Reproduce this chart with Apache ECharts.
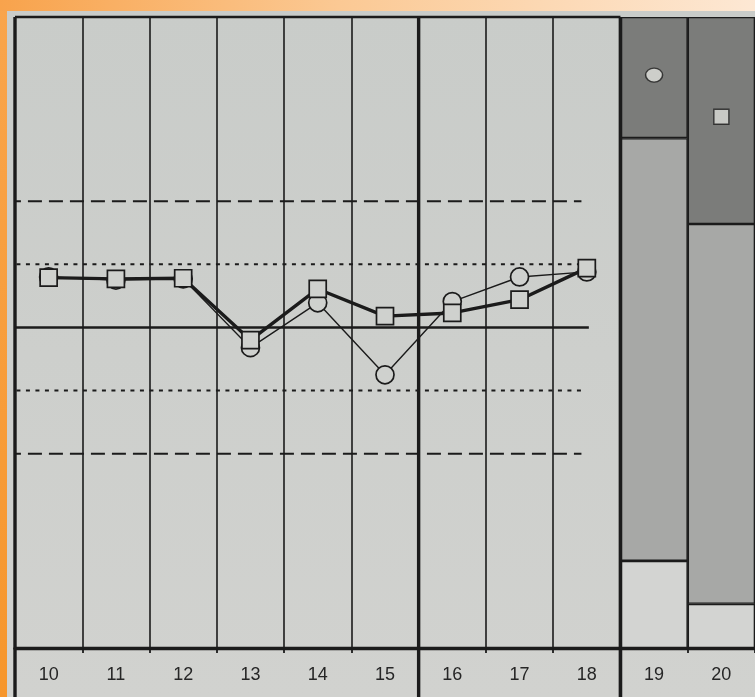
<!DOCTYPE html>
<html><head><meta charset="utf-8">
<script src="https://cdn.jsdelivr.net/npm/echarts/dist/echarts.min.js"></script>
<style>
html,body{margin:0;padding:0;width:755px;height:697px;overflow:hidden;background:linear-gradient(to bottom,#f9a54c,#f6962c);}
#topband{position:absolute;left:0;top:0;width:755px;height:11px;background:linear-gradient(to right,#f8a34c,#fbc994 45%,#fde8d4);}
#paper{position:absolute;left:7px;top:11px;right:0;bottom:0;background:linear-gradient(to bottom,#c9ccc9,#d1d2cf);}
#chart{position:absolute;left:0;top:0;width:755px;height:697px;}
</style></head><body>
<div id="topband"></div><div id="paper"></div><div id="chart"></div>
<script>
// ---- data ----
const categories = ['10','11','12','13','14','15','16','17','18','19','20'];
const squareValues = [0.79, 0.77, 0.78, -0.20, 0.61, 0.18, 0.23, 0.44, 0.94];
const circleValues = [0.80, 0.75, 0.77, -0.32, 0.39, -0.75, 0.41, 0.80, 0.88];
const dashedLimits = [2, -2];
const dottedLimits = [1, -1];
const centerValue = 0;
const barCategories = ['19', '20'];
const lowBand = [13.8, 7.0];
const midBand = [67.0, 60.2];
const highBand = [19.2, 32.8];
const circleMarker = ['19', 90.8];
const squareMarker = ['20', 84.2];

// ---- styling ----
const INK = '#1b1b1b';
const PAPER = '#cfd1ce';
const Y_MIN = -5.08, Y_MAX = 4.92;

function padBars(arr) {
  return categories.map(c => { const i = barCategories.indexOf(c); return i < 0 ? null : arr[i]; });
}
function vline(x, width) {
  return { type: 'line', xAxisIndex: 1, yAxisIndex: 0, clip: false, silent: true, symbol: 'none', z: 5,
    lineStyle: { color: INK, width: width }, data: [[x, -6.2], [x, Y_MAX]] };
}
function hline(v, x1, type, width) {
  return { type: 'line', xAxisIndex: 1, yAxisIndex: 0, clip: false, silent: true, symbol: 'none', z: 2,
    lineStyle: { color: INK, width: width, type: type }, data: [[-0.12, v], [x1, v]] };
}

const series = [];
// stacked bands in columns 19, 20
[[lowBand, '#d3d4d2'], [midBand, '#a7a8a6'], [highBand, '#7b7c7a']].forEach(([arr, col]) => {
  series.push({ type: 'bar', xAxisIndex: 0, yAxisIndex: 1, stack: 'bands', barCategoryGap: '0%',
    itemStyle: { color: col, borderColor: INK, borderWidth: 1.3 }, data: padBars(arr), z: 2 });
});
// reference lines
dashedLimits.forEach(v => series.push(hline(v, 8.42, [14, 7], 2)));
dottedLimits.forEach(v => series.push(hline(v, 8.42, [4, 5.5], 2)));
series.push({ type: 'line', xAxisIndex: 1, yAxisIndex: 0, clip: false, silent: true, symbol: 'none', z: 2,
  lineStyle: { color: INK, width: 2.5 }, data: [[0, centerValue], [8.53, centerValue]] });
// frame lines
series.push(vline(0, 3.4));
series.push(vline(6, 3.4));
series.push(vline(9, 3.6));
series.push({ type: 'line', xAxisIndex: 1, yAxisIndex: 0, clip: false, silent: true, symbol: 'none', z: 5,
  lineStyle: { color: INK, width: 2.5 }, data: [[0, Y_MAX], [9, Y_MAX]] });
// data lines
series.push({ type: 'line', xAxisIndex: 0, yAxisIndex: 0, data: circleValues, z: 6,
  symbol: 'circle', symbolSize: 18,
  lineStyle: { color: INK, width: 1.4 },
  itemStyle: { color: PAPER, borderColor: INK, borderWidth: 1.7 } });
series.push({ type: 'line', xAxisIndex: 0, yAxisIndex: 0, data: squareValues, z: 7,
  symbol: 'rect', symbolSize: 17,
  lineStyle: { color: INK, width: 3.4 },
  itemStyle: { color: PAPER, borderColor: INK, borderWidth: 1.7 } });
// markers in bands
series.push({ type: 'scatter', xAxisIndex: 0, yAxisIndex: 1, data: [circleMarker], z: 8,
  symbol: 'circle', symbolSize: [17, 14],
  itemStyle: { color: '#e2e2de', borderColor: INK, borderWidth: 1.4 } });
series.push({ type: 'scatter', xAxisIndex: 0, yAxisIndex: 1, data: [squareMarker], z: 8,
  symbol: 'rect', symbolSize: 15,
  itemStyle: { color: '#dcdcd8', borderColor: INK, borderWidth: 1.4 } });

const chart = echarts.init(document.getElementById('chart'), null, { renderer: 'canvas' });
chart.setOption({
  backgroundColor: 'transparent',
  animation: false,
  grid: { left: 15, right: 0, top: 17, bottom: 49, containLabel: false },
  xAxis: [
    { type: 'category', data: categories, boundaryGap: true, position: 'bottom',
      axisLine: { show: false, onZero: false }, axisTick: { show: false }, splitLine: { show: false },
      axisLabel: { fontSize: 18, color: '#262626', fontFamily: 'Liberation Sans, Arial, sans-serif', margin: 18 } },
    { type: 'value', min: 0, max: 11, interval: 1, position: 'bottom',
      axisLine: { show: true, onZero: false, lineStyle: { color: INK, width: 3.4 } },
      axisTick: { show: true, length: 5, lineStyle: { color: INK, width: 1.8 } },
      axisLabel: { show: false },
      splitLine: { show: true, lineStyle: { color: INK, width: 1.6 } } }
  ],
  yAxis: [
    { type: 'value', min: Y_MIN, max: Y_MAX, show: false, splitLine: { show: false } },
    { type: 'value', min: 0, max: 100, show: false, splitLine: { show: false } }
  ],
  series: series
});
</script>
</body></html>
